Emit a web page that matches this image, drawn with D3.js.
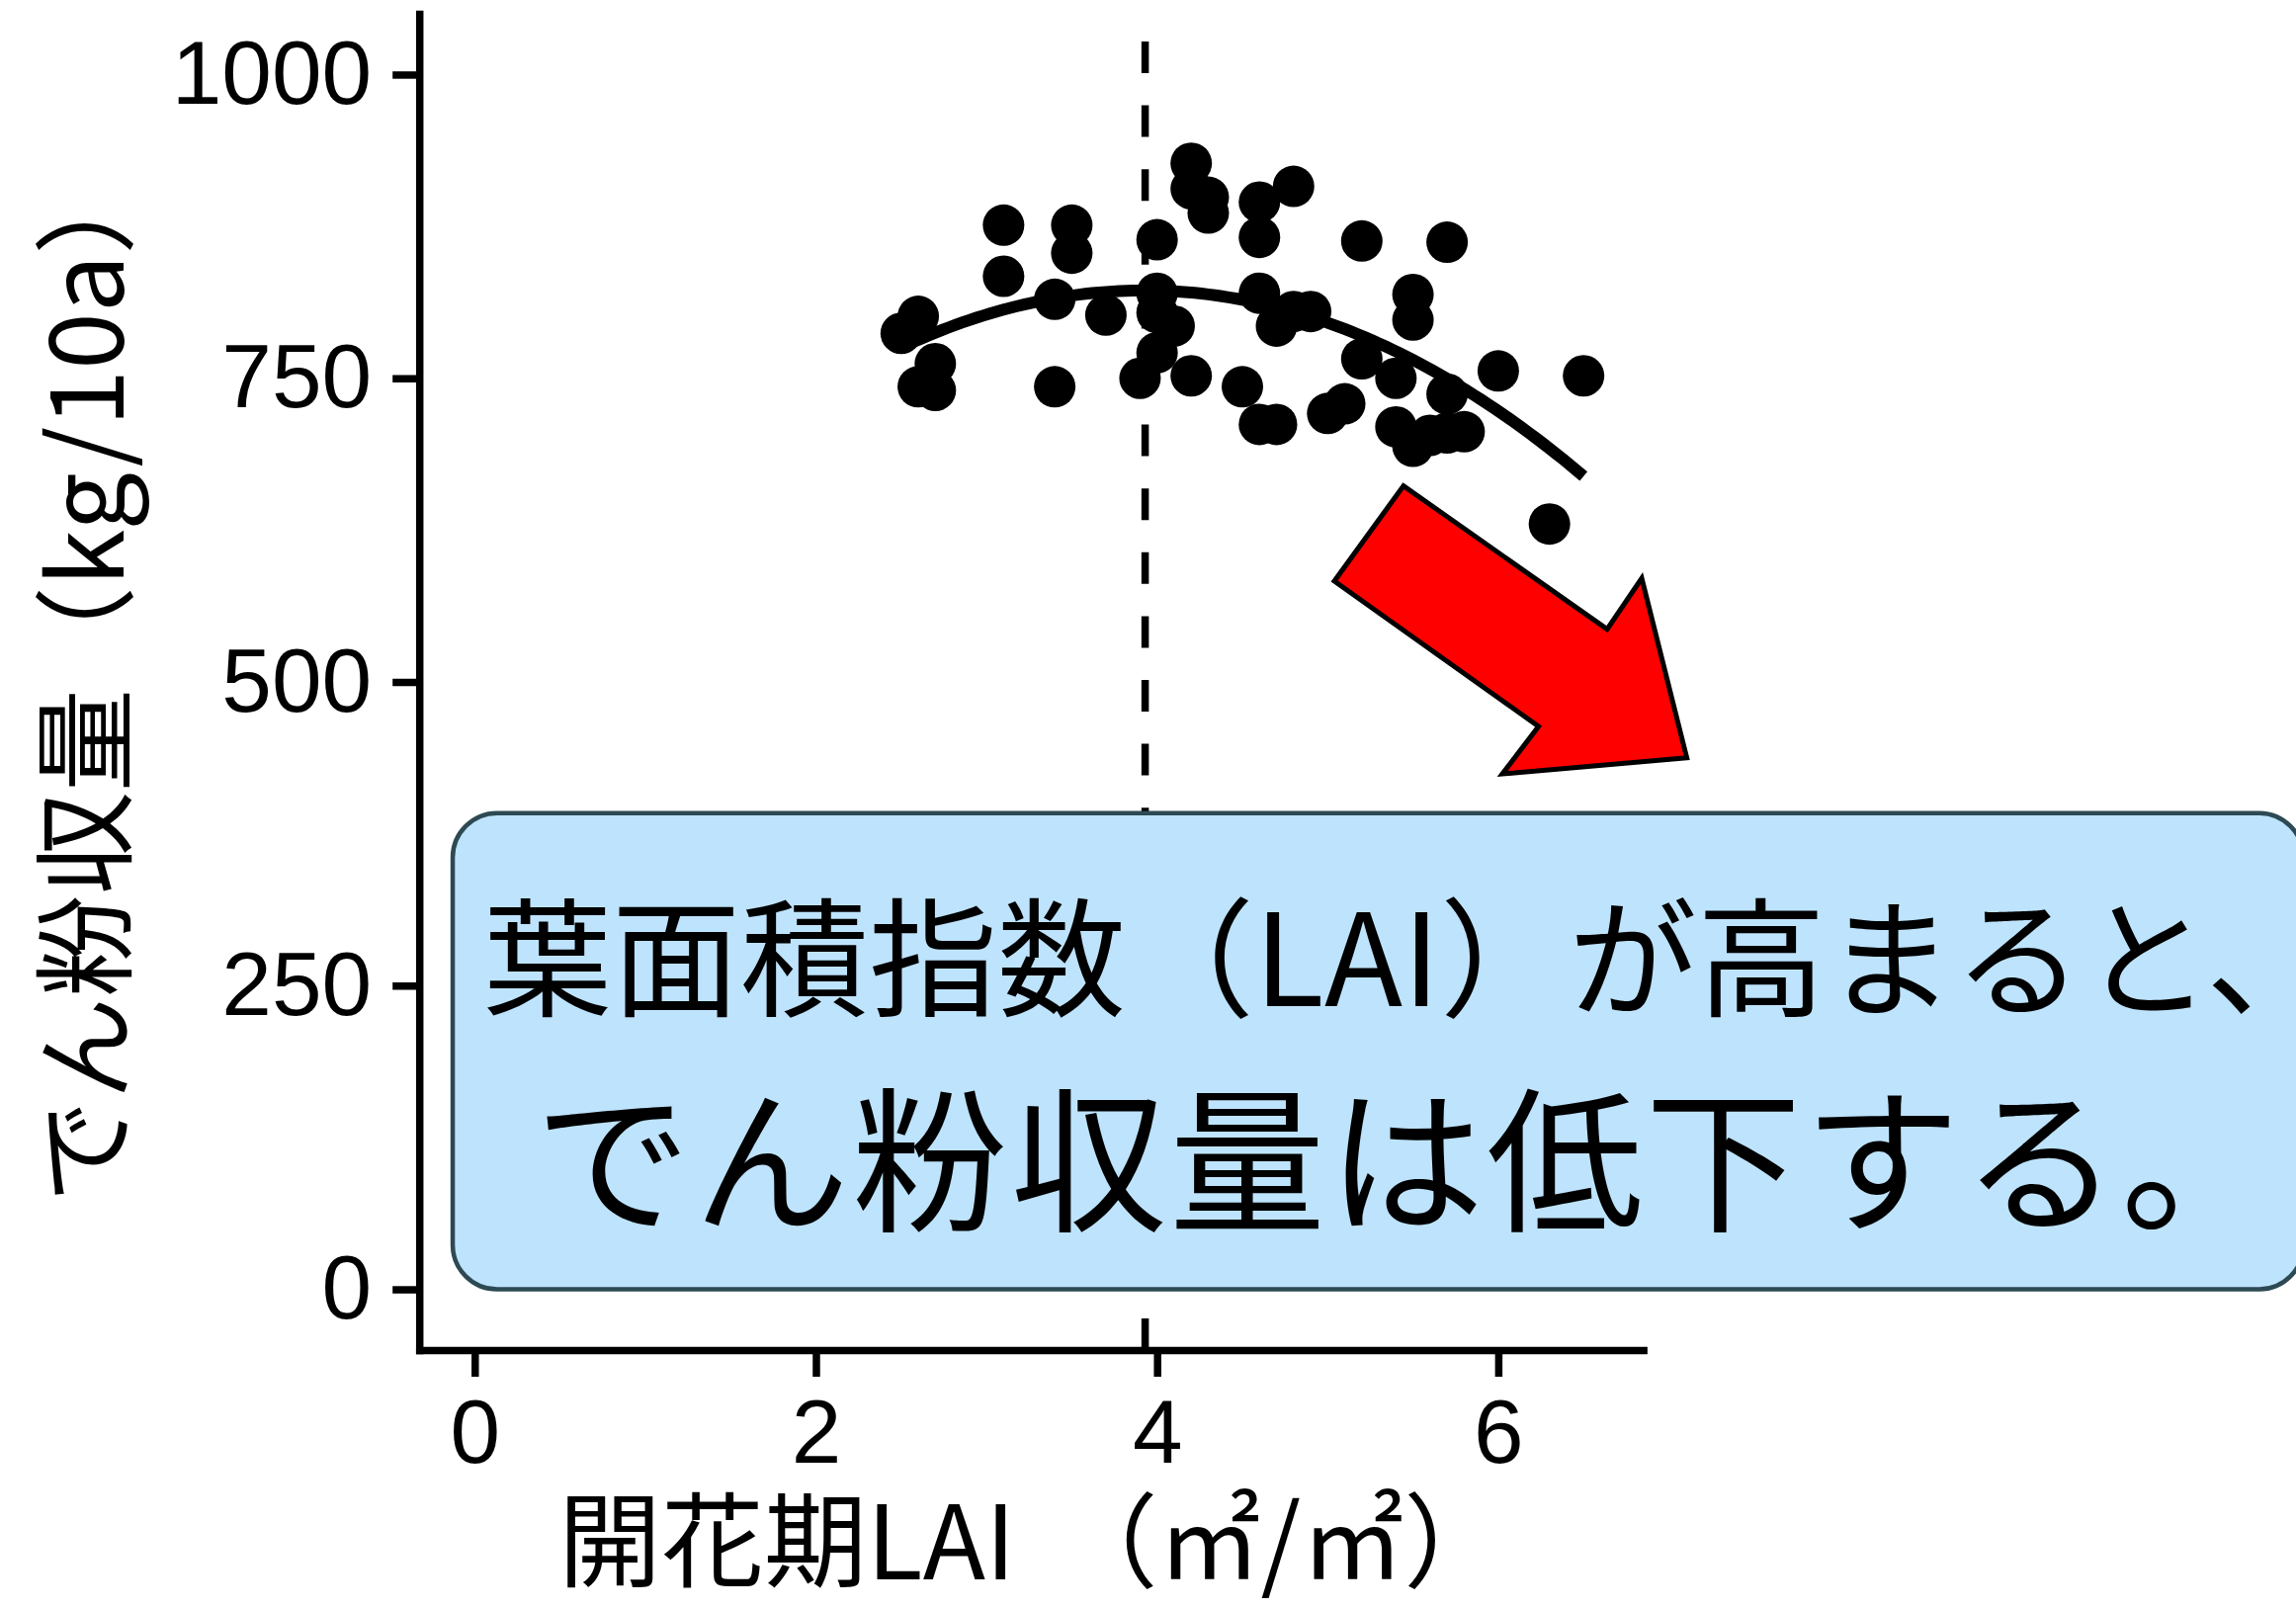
<!DOCTYPE html>
<html>
<head>
<meta charset="utf-8">
<script src="https://cdn.jsdelivr.net/npm/d3@7"></script>
<style>
  html, body { margin: 0; padding: 0; background: #ffffff; }
  svg { display: block; }
</style>
</head>
<body>
<svg id="chart" width="2323" height="1627"></svg>
<script>
// ---------------- data ----------------
// 開花期LAI (m2/m2)
const lai = [2.5, 2.6, 2.7, 2.6, 2.7, 3.1, 3.1, 3.4, 3.4, 3.5,
             3.5, 3.7, 3.9, 4.0, 4.0, 4.0, 4.1, 4.0, 4.2, 4.2,
             4.3, 4.3, 4.2, 4.5, 4.6, 4.6, 4.6, 4.8, 4.6, 4.7,
             4.7, 4.8, 4.9, 5.0, 5.1, 5.2, 5.2, 5.4, 5.4, 5.5,
             5.5, 5.5, 5.6, 5.7, 5.7, 5.7, 5.8, 6.0, 6.3, 6.5];
// でん粉収量 (kg/10a)
const starch = [787, 801, 762, 743, 740, 876, 834, 815, 743, 876,
                853, 802, 750, 864, 820, 804, 793, 771, 927, 906,
                899, 886, 752, 743, 895, 866, 820, 908, 712, 712,
                793, 805, 805, 721, 729, 863, 766, 750, 710, 819,
                798, 694, 703, 862, 737, 705, 706, 756, 630, 752];
const thresholdLAI = [3.93];
const xTicks = [0, 2, 4, 6];
const yTicks = [0, 250, 500, 750, 1000];
const xDomain = [-0.325, 6.85];
const yDomain = [-50, 1050];
const xTitleParts = ["開花期LAI", "（㎡/㎡）"];
const yTitle = "でん粉収量（kg/10a）";
const noteLines = ["葉面積指数（LAI）が高まると、", "でん粉収量は低下する。"];
// annotation arrow outline in data units (LAI, kg/10a)
const arrowX = [5.444, 6.638, 6.841, 7.105, 6.024, 6.236, 5.039];
const arrowY = [661.4, 543.4, 585.4, 437.6, 424.3, 463.4, 583.0];
// annotation box extent in data units
const boxX = [-0.129, 10.72];
const boxY = [0, 392];

// ---------------- scales ----------------
const svg = d3.select("#chart");
svg.append("rect").attr("width", 2323).attr("height", 1627).attr("fill", "#ffffff");

const x = d3.scaleLinear().domain(xDomain).range([424.2, 1662.6]);
const y = d3.scaleLinear().domain(yDomain).range([1366, 14]);

const pts = lai.map((v, i) => ({ x: v, y: starch[i] }));

// quadratic least-squares fit from the data
function quadFit(data) {
  let S = [0, 0, 0, 0, 0], T = [0, 0, 0];
  data.forEach(d => {
    let p = 1;
    for (let k = 0; k < 5; k++) { S[k] += p; p *= d.x; }
    T[0] += d.y; T[1] += d.y * d.x; T[2] += d.y * d.x * d.x;
  });
  const A = [[S[0], S[1], S[2], T[0]], [S[1], S[2], S[3], T[1]], [S[2], S[3], S[4], T[2]]];
  for (let i = 0; i < 3; i++) {
    for (let j = i + 1; j < 3; j++) {
      const f = A[j][i] / A[i][i];
      for (let k = i; k < 4; k++) A[j][k] -= f * A[i][k];
    }
  }
  const c = [0, 0, 0];
  for (let i = 2; i >= 0; i--) {
    let s = A[i][3];
    for (let k = i + 1; k < 3; k++) s -= A[i][k] * c[k];
    c[i] = s / A[i][i];
  }
  return c;
}
const coef = quadFit(pts);
const [xmin, xmax] = d3.extent(lai);
const fitPts = d3.range(0, 101).map(i => {
  const xv = xmin + (xmax - xmin) * i / 100;
  return { x: xv, y: coef[0] + coef[1] * xv + coef[2] * xv * xv };
});

// ---------------- reference line ----------------
svg.selectAll(".vline").data(thresholdLAI).join("line")
  .attr("class", "vline")
  .attr("x1", d => x(d)).attr("x2", d => x(d))
  .attr("y1", y(yDomain[0])).attr("y2", y(yDomain[1]))
  .attr("stroke", "#000").attr("stroke-width", 7.5)
  .attr("stroke-dasharray", "32 32.6");

// ---------------- axes ----------------
const fontLatin = "'Liberation Sans', Arial, sans-serif";
const fontJP = "'Noto Sans CJK JP', 'Noto Sans CJK SC', sans-serif";

const yAxis = svg.append("g")
  .attr("transform", `translate(${x(xDomain[0])},0)`)
  .call(d3.axisLeft(y).tickValues(yTicks).tickFormat(d3.format("d"))
    .tickSize(27).tickSizeOuter(0).tickPadding(21));
const xAxis = svg.append("g")
  .attr("transform", `translate(0,${y(yDomain[0])})`)
  .call(d3.axisBottom(x).tickValues(xTicks).tickFormat(d3.format("d"))
    .tickSize(27).tickSizeOuter(0).tickPadding(22));

[yAxis, xAxis].forEach(g => {
  g.select(".domain").attr("stroke", "#000").attr("stroke-width", 7.5)
    .attr("stroke-linecap", "square");
  g.selectAll(".tick line").attr("stroke", "#000").attr("stroke-width", 7.5);
  g.selectAll(".tick text").attr("fill", "#000")
    .style("font-family", fontLatin).style("font-size", "91px");
});

// ---------------- scatter + fit ----------------
svg.append("g").selectAll("circle").data(pts).join("circle")
  .attr("cx", d => x(d.x)).attr("cy", d => y(d.y)).attr("r", 21)
  .attr("fill", "#000");

svg.append("path").datum(fitPts)
  .attr("d", d3.line().x(d => x(d.x)).y(d => y(d.y)).curve(d3.curveLinear))
  .attr("fill", "none").attr("stroke", "#000").attr("stroke-width", 12);

// ---------------- titles ----------------
const xt = svg.append("text")
  .attr("x", 565).attr("y", 1598)
  .style("font-family", fontJP).style("font-size", "104px").attr("fill", "#000");
xt.append("tspan").text(xTitleParts[0]);
xt.append("tspan").attr("dx", 40).text(xTitleParts[1]);

svg.append("text")
  .attr("transform", "translate(125,1217) rotate(-90)")
  .style("font-family", fontJP).style("font-size", "104px").attr("fill", "#000")
  .text(yTitle);

// ---------------- annotation arrow ----------------
const arrowPts = arrowX.map((v, i) => [x(v), y(arrowY[i])]);
svg.append("path")
  .attr("d", d3.line()(arrowPts) + "Z")
  .attr("fill", "#ff0000").attr("stroke", "#000").attr("stroke-width", 5)
  .attr("stroke-linejoin", "miter");

// ---------------- annotation box ----------------
svg.append("rect")
  .attr("x", x(boxX[0])).attr("y", y(boxY[1]))
  .attr("width", x(boxX[1]) - x(boxX[0])).attr("height", y(boxY[0]) - y(boxY[1]))
  .attr("rx", 45).attr("ry", 45)
  .attr("fill", "#bee3fc").attr("stroke", "#2d4a54").attr("stroke-width", 4.5);

svg.append("text").attr("x", 489).attr("y", 1018)
  .style("font-family", fontJP).style("font-size", "130px").attr("fill", "#000")
  .text(noteLines[0]);
svg.append("text").attr("x", 541).attr("y", 1234)
  .style("font-family", fontJP).style("font-size", "158px")
  .style("letter-spacing", "2.5px").attr("fill", "#000")
  .text(noteLines[1]);
</script>
</body>
</html>
